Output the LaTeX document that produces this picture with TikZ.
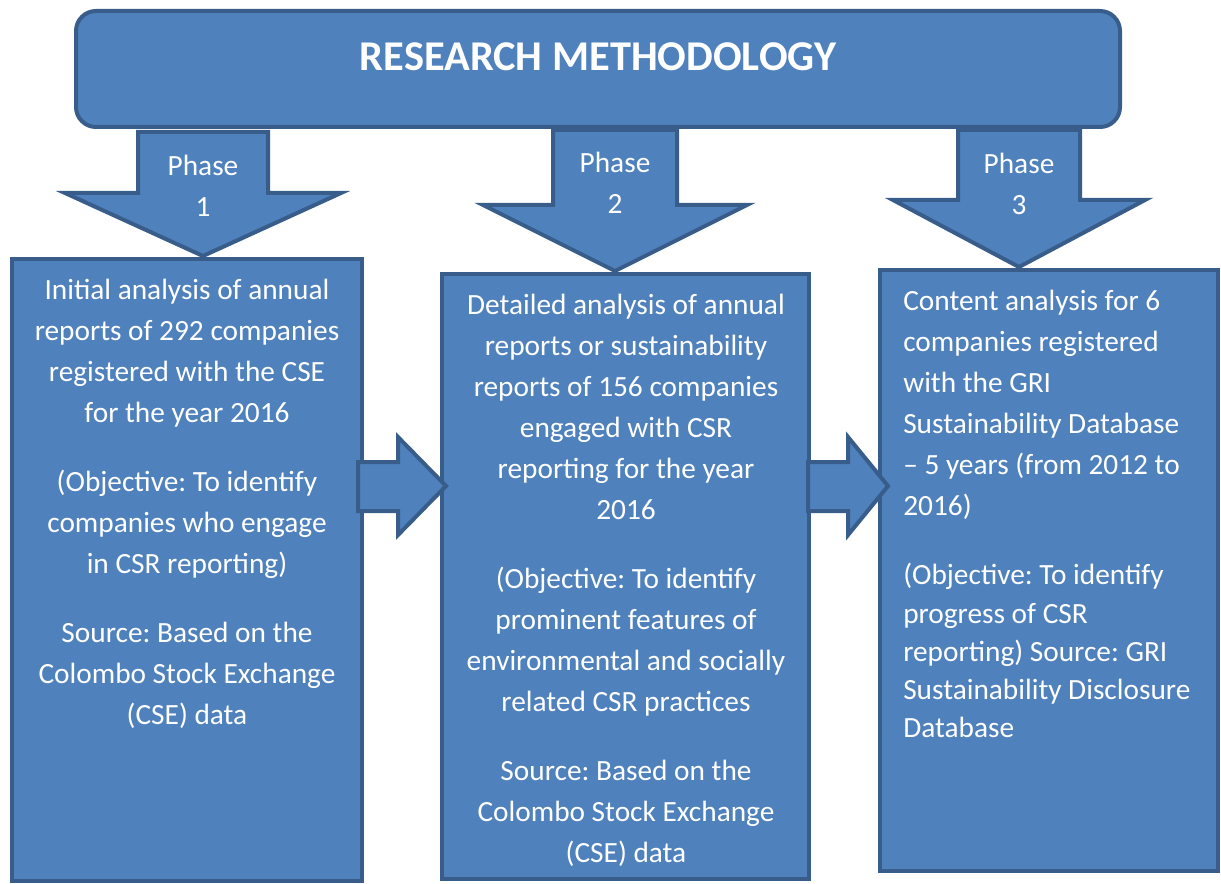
\documentclass[tikz,border=0pt]{standalone}
\usepackage{fontspec}
\setmainfont{Carlito}
\frenchspacing
\definecolor{boxblue}{HTML}{4F81BD}
\definecolor{edgeblue}{HTML}{385D8A}
\tikzset{
	blockshape/.style={fill=boxblue,draw=edgeblue,line width=3pt,line join=miter},
	txt/.style={text=white,inner sep=0pt,font=\fontsize{22}{30.75}\selectfont},
}
\begin{document}
\begin{tikzpicture}[x=0.75pt,y=-0.75pt]
	\useasboundingbox (0,0) rectangle (1221,884);
	\draw[blockshape,rounded corners=15pt] (76,11) rectangle (1120,127);
	\node[txt,font=\fontsize{31.8}{38}\selectfont\bfseries,anchor=base] (title) at (598,71) {RESEARCH METHODOLOGY};
	\draw[blockshape] (12,259) rectangle (362,881);
	\draw[blockshape] (442,274) rectangle (809,879);
	\draw[blockshape] (880,270) rectangle (1218,871);
	\foreach \cx/\w/\h/\top/\s/\t/\n in {203/65/138/132/193/256/1,615/62/132/130/205/271/2,1019/61/126/130/200/267/3}
		\draw[blockshape] (\cx-\w,\top) -- (\cx+\w,\top) -- (\cx+\w,\s) -- (\cx+\h,\s)
			-- (\cx,\t) -- (\cx-\h,\s) -- (\cx-\w,\s) -- cycle;
	\foreach \x/\tx in {358/446,808/888}
		\draw[blockshape] (\x,462) -- (\x+40,462) -- (\x+40,437) -- (\tx,486)
			-- (\x+40,535) -- (\x+40,511) -- (\x,511) -- cycle;
	\node[txt,align=center,anchor=north] (phase1) at (203,147) {\strut Phase\\1};
	\node[txt,align=center,anchor=north] (phase2) at (615,144) {\strut Phase\\2};
	\node[txt,align=center,anchor=north] (phase3) at (1019,145) {\strut Phase\\3};
	\node[txt,align=center,anchor=north] (text1) at (187,271) {\strut Initial analysis of annual\\
		reports of 292 companies\\registered with the CSE\\for the year 2016\\[21pt]
		(Objective: To identify\\companies who engage\\in CSR reporting)\\[21pt]
		Source: Based on the\\Colombo Stock Exchange\\(CSE) data};
	\node[txt,align=center,anchor=north] (text2) at (626,286) {\strut Detailed analysis of annual\\
		reports or sustainability\\reports of 156 companies\\engaged with CSR\\reporting for the year\\2016\\[21pt]
		(Objective: To identify\\prominent features of\\environmental and socially\\related CSR practices\\[21pt]
		Source: Based on the\\Colombo Stock Exchange\\(CSE) data};
	\node[txt,align=left,anchor=north west] (text3) at (903,282) {\strut Content analysis for 6\\
		companies registered\\with the GRI\\Sustainability Database\\-- 5 years (from 2012 to\\2016)\\[21pt]
		(Objective: To identify\\[-1.5pt]progress of CSR\\[-2.25pt]reporting) Source: GRI\\[-2.25pt]
		Sustainability Disclosure\\[-2.25pt]Database};
\end{tikzpicture}
\end{document}
